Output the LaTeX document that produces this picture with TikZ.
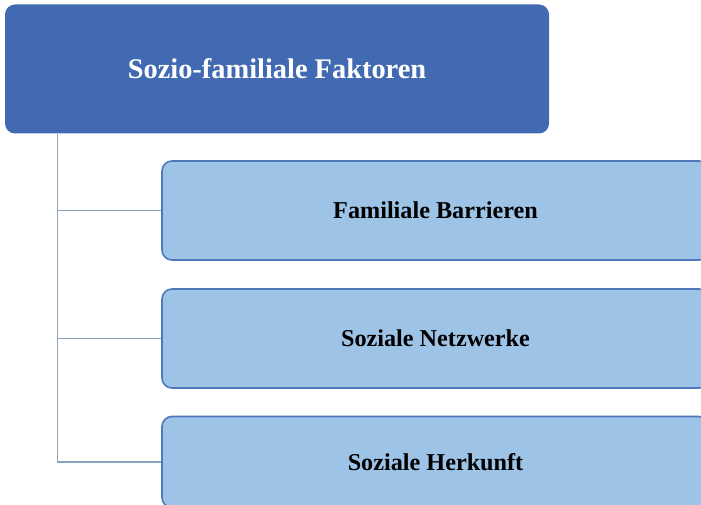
\documentclass[tikz,border=0pt]{standalone}
\usepackage{fontspec}
\setmainfont{Liberation Serif}
\definecolor{headblue}{RGB}{66,106,178}
\definecolor{itemblue}{RGB}{157,195,230}
\definecolor{itemedge}{RGB}{79,121,189}
\definecolor{linegrey}{RGB}{140,163,190}
\tikzset{
  headbox/.style={fill=headblue, rounded corners=10pt, minimum width=544pt, minimum height=129pt,
    text=white, font=\fontsize{28.4}{34}\selectfont\bfseries},
  itembox/.style={fill=itemblue, draw=itemedge, line width=1.6pt, rounded corners=10pt,
    minimum width=547pt, minimum height=99pt, font=\fontsize{24.2}{29}\selectfont\bfseries},
  conn/.style={draw=linegrey, line width=1.1pt}
}
\begin{document}
\begin{tikzpicture}[x=1pt, y=-1pt]
          \useasboundingbox (0,0) rectangle (701,505);
          \clip (0,0) rectangle (701,505);
          \fill [white] (0,0) rectangle (701,505);
          \node [headbox] (head) at (277,69) {Sozio-familiale Faktoren};
          \node [itembox] (barr) at (435.5,210.5) {Familiale Barrieren};
          \node [itembox] (netz) at (435.5,338.5) {Soziale Netzwerke};
          \node [itembox, minimum height=91pt] (herk) at (435.5,462) {Soziale Herkunft};
          \coordinate (trunk) at ([xshift=53pt]head.south west);
          \draw [conn] (trunk) |- (barr.west);
          \draw [conn] (trunk) |- (netz.west);
          \draw [conn] (trunk) |- (herk.west);
      \end{tikzpicture}
\end{document}
